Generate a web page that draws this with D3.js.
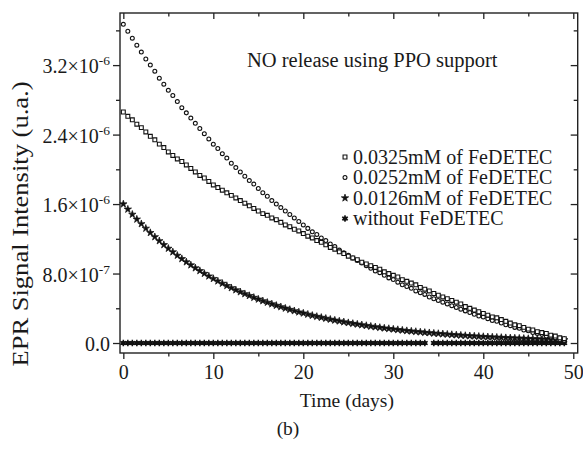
<!DOCTYPE html>
<html>
<head>
<meta charset="utf-8">
<script src="https://cdnjs.cloudflare.com/ajax/libs/d3/7.8.5/d3.min.js"></script>
<style>
  body { margin: 0; background: #fff; }
  svg text { font-family: "Liberation Serif", "Times New Roman", Times, serif; fill: #1a1a1a; }
</style>
</head>
<body>
<svg id="chart" width="583" height="450"></svg>
<script>
// values in units of 1e-6 (EPR signal intensity, u.a.)
var days = d3.range(0, 49.01, 0.5);

var fe0325 = [2.66, 2.61, 2.57, 2.52, 2.48, 2.43, 2.38, 2.34, 2.29, 2.25,
  2.20, 2.16, 2.12, 2.09, 2.05, 2.01, 1.97, 1.93, 1.90, 1.86,
  1.82, 1.79, 1.76, 1.73, 1.70, 1.67, 1.64, 1.61, 1.58, 1.55,
  1.52, 1.49, 1.47, 1.44, 1.42, 1.39, 1.36, 1.34, 1.31, 1.29,
  1.26, 1.23, 1.21, 1.18, 1.16, 1.13, 1.10, 1.08, 1.05, 1.03,
  1.00, 0.98, 0.96, 0.93, 0.91, 0.89, 0.87, 0.85, 0.82, 0.80,
  0.78, 0.76, 0.73, 0.71, 0.69, 0.67, 0.64, 0.62, 0.60, 0.57,
  0.55, 0.53, 0.51, 0.49, 0.47, 0.45, 0.42, 0.40, 0.38, 0.36,
  0.34, 0.32, 0.30, 0.29, 0.27, 0.25, 0.23, 0.21, 0.20, 0.18,
  0.16, 0.15, 0.13, 0.12, 0.11, 0.09, 0.08, 0.06, 0.05];

var fe0252 = [3.67, 3.59, 3.51, 3.43, 3.35, 3.27, 3.20, 3.13, 3.05, 2.98,
  2.91, 2.85, 2.78, 2.71, 2.65, 2.59, 2.53, 2.47, 2.41, 2.35,
  2.29, 2.24, 2.18, 2.13, 2.07, 2.02, 1.97, 1.92, 1.87, 1.83,
  1.78, 1.73, 1.69, 1.64, 1.60, 1.56, 1.52, 1.48, 1.44, 1.40,
  1.36, 1.32, 1.28, 1.25, 1.21, 1.18, 1.14, 1.11, 1.07, 1.04,
  1.01, 0.98, 0.95, 0.92, 0.89, 0.86, 0.83, 0.81, 0.78, 0.75,
  0.73, 0.70, 0.67, 0.65, 0.63, 0.60, 0.58, 0.56, 0.53, 0.51,
  0.49, 0.47, 0.45, 0.43, 0.41, 0.39, 0.37, 0.35, 0.33, 0.31,
  0.30, 0.28, 0.26, 0.25, 0.23, 0.21, 0.20, 0.18, 0.17, 0.15,
  0.14, 0.12, 0.11, 0.10, 0.08, 0.07, 0.06, 0.04, 0.03];

var fe0126 = [1.600, 1.540, 1.481, 1.425, 1.372, 1.320, 1.270, 1.222, 1.176, 1.131,
  1.089, 1.048, 1.008, 0.970, 0.933, 0.898, 0.864, 0.832, 0.800, 0.770,
  0.741, 0.713, 0.686, 0.660, 0.635, 0.611, 0.588, 0.566, 0.545, 0.524,
  0.504, 0.485, 0.467, 0.449, 0.432, 0.416, 0.400, 0.385, 0.370, 0.356,
  0.343, 0.330, 0.317, 0.305, 0.294, 0.283, 0.272, 0.262, 0.252, 0.242,
  0.233, 0.224, 0.216, 0.208, 0.200, 0.192, 0.185, 0.178, 0.171, 0.165,
  0.159, 0.153, 0.147, 0.141, 0.136, 0.131, 0.126, 0.121, 0.117, 0.112,
  0.108, 0.104, 0.100, 0.096, 0.092, 0.089, 0.085, 0.082, 0.079, 0.076,
  0.073, 0.070, 0.068, 0.065, 0.063, 0.060, 0.058, 0.056, 0.054, 0.052,
  0.050, 0.048, 0.046, 0.044, 0.043, 0.041, 0.039, 0.038, 0.036];

var withoutFe = [0, 0, 0, 0, 0, 0, 0, 0, 0, 0,
  0, 0, 0, 0, 0, 0, 0, 0, 0, 0,
  0, 0, 0, 0, 0, 0, 0, 0, 0, 0,
  0, 0, 0, 0, 0, 0, 0, 0, 0, 0,
  0, 0, 0, 0, 0, 0, 0, 0, 0, 0,
  0, 0, 0, 0, 0, 0, 0, 0, 0, 0,
  0, 0, 0, 0, 0, 0, 0, 0, null, 0,
  0, 0, 0, 0, 0, 0, 0, 0, 0, 0,
  0, 0, 0, 0, 0, 0, 0, 0, 0, 0,
  0, 0, 0, 0, 0, 0, 0, 0, 0];

var seriesNames = ["0.0325mM of FeDETEC", "0.0252mM of FeDETEC", "0.0126mM of FeDETEC", "without FeDETEC"];

var xTicks = [0, 10, 20, 30, 40, 50],
    xMinor = [5, 15, 25, 35, 45],
    yTicks = [0, 0.8, 1.6, 2.4, 3.2],
    yMinor = [0.4, 1.2, 2.0, 2.8, 3.6],
    yTickMant = ["0.0", "8.0", "1.6", "2.4", "3.2"],
    yTickExp = [null, "-7", "-6", "-6", "-6"];

var FONT = "Liberation Serif, Times New Roman, Times, serif";

var svg = d3.select("#chart").attr("font-family", FONT),
    MARGINS = { top: 13, right: 5.3, bottom: 97, left: 120 },
    WIDTH = 583, HEIGHT = 450,
    x = d3.scaleLinear().domain([-0.37, 50.49]).range([MARGINS.left, WIDTH - MARGINS.right]),
    y = d3.scaleLinear().domain([-0.115, 3.80]).range([HEIGHT - MARGINS.bottom, MARGINS.top]);

var axisColor = "#222";

function styleAxis(g) {
  g.attr("font-family", FONT);
  g.select(".domain").remove();
  g.selectAll(".tick line").attr("stroke", axisColor).attr("stroke-width", 1.3);
}

// bottom axis
svg.append("g")
  .attr("transform", "translate(0," + y.range()[0] + ")")
  .call(d3.axisBottom(x).tickValues(xTicks).tickSize(6).tickFormat(d3.format("d")))
  .call(styleAxis)
  .call(function (g) {
    g.selectAll("text").attr("dy", null).attr("y", 26.3)
      .attr("font-size", 20).attr("fill", "#1a1a1a");
  });
svg.append("g")
  .attr("transform", "translate(0," + y.range()[0] + ")")
  .call(d3.axisBottom(x).tickValues(xMinor).tickSize(3.5).tickFormat(""))
  .call(styleAxis);

// top axis (mirror, inward)
svg.append("g")
  .attr("transform", "translate(0," + y.range()[1] + ")")
  .call(d3.axisTop(x).tickValues(xTicks).tickSize(-6).tickFormat(""))
  .call(styleAxis);
svg.append("g")
  .attr("transform", "translate(0," + y.range()[1] + ")")
  .call(d3.axisTop(x).tickValues(xMinor).tickSize(-3.5).tickFormat(""))
  .call(styleAxis);

// left axis
svg.append("g")
  .attr("transform", "translate(" + x.range()[0] + ",0)")
  .call(d3.axisLeft(y).tickValues(yTicks).tickSize(7).tickPadding(3).tickFormat(""))
  .call(styleAxis)
  .call(function (g) {
    g.selectAll(".tick").each(function (d, i) {
      var t = d3.select(this).select("text")
        .attr("dy", null).attr("y", 7.5).attr("font-size", 20).attr("fill", "#1a1a1a")
        .attr("text-anchor", "end");
      t.append("tspan").text(yTickMant[i] + (yTickExp[i] ? "\u00d710" : ""));
      if (yTickExp[i]) {
        t.append("tspan").attr("font-size", 13.5).attr("dy", -7.7).text(yTickExp[i]);
      }
    });
  });
svg.append("g")
  .attr("transform", "translate(" + x.range()[0] + ",0)")
  .call(d3.axisLeft(y).tickValues(yMinor).tickSize(4).tickFormat(""))
  .call(styleAxis);

// right axis (mirror, inward)
svg.append("g")
  .attr("transform", "translate(" + x.range()[1] + ",0)")
  .call(d3.axisRight(y).tickValues(yTicks).tickSize(-7).tickFormat(""))
  .call(styleAxis);
svg.append("g")
  .attr("transform", "translate(" + x.range()[1] + ",0)")
  .call(d3.axisRight(y).tickValues(yMinor).tickSize(-4).tickFormat(""))
  .call(styleAxis);

// frame
svg.append("rect")
  .attr("x", x.range()[0]).attr("y", y.range()[1])
  .attr("width", x.range()[1] - x.range()[0])
  .attr("height", y.range()[0] - y.range()[1])
  .attr("fill", "none").attr("stroke", axisColor).attr("stroke-width", 1.4);

// markers
var symSquare = d3.symbol().type(d3.symbolSquare).size(15),
    symCircle = d3.symbol().type(d3.symbolCircle).size(12),
    symStar = d3.symbol().type(d3.symbolStar).size(17),
    symAst = d3.symbol().type(d3.symbolAsterisk).size(30),
    symDot = d3.symbol().type(d3.symbolCircle).size(8);

var seriesDefs = [
  { vals: fe0325, path: symSquare(), fill: "#fff", stroke: "#111", sw: 1.1 },
  { vals: fe0252, path: symCircle(), fill: "#fff", stroke: "#111", sw: 1.1 },
  { vals: fe0126, path: symStar(), fill: "#111", stroke: "#111", sw: 0.7 },
  { vals: withoutFe, path: symAst() + symDot(), fill: "#111", stroke: "#111", sw: 1.5 }
];

// draw from the back: without, then stars, circles, squares
[3, 2, 1, 0].forEach(function (k) {
  var s = seriesDefs[k];
  var pts = days.map(function (d, i) { return { x: d, y: s.vals[i] }; })
    .filter(function (p) { return p.y !== null; });
  svg.append("g").selectAll("path")
    .data(pts)
    .enter().append("path")
    .attr("transform", function (d) { return "translate(" + x(d.x) + "," + y(d.y) + ")"; })
    .attr("d", s.path)
    .attr("fill", s.fill)
    .attr("stroke", s.stroke)
    .attr("stroke-width", s.sw);
});

// legend
var legend = svg.append("g").attr("transform", "translate(345,157)");
seriesNames.forEach(function (name, i) {
  var s = seriesDefs[i];
  var row = legend.append("g").attr("transform", "translate(0," + (i * 20.5) + ")");
  row.append("path").attr("d", s.path).attr("fill", s.fill)
    .attr("stroke", s.stroke).attr("stroke-width", s.sw);
  row.append("text").attr("x", 8).attr("y", 6.7).attr("font-size", 20)
    .attr("font-family", FONT).text(name);
});

// annotation
svg.append("text")
  .attr("x", 247).attr("y", 66.7).attr("font-size", 20.5).attr("font-family", FONT)
  .text("NO release using PPO support");

// axis titles
svg.append("text")
  .attr("x", (x.range()[0] + x.range()[1]) / 2 - 2).attr("y", 406.5)
  .attr("text-anchor", "middle").attr("font-size", 19.5).attr("font-family", FONT)
  .text("Time (days)");

svg.append("text")
  .attr("transform", "translate(27.5,224) rotate(-90)")
  .attr("text-anchor", "middle").attr("font-size", 23).attr("font-family", FONT)
  .attr("textLength", 285).attr("lengthAdjust", "spacingAndGlyphs")
  .text("EPR Signal Intensity (u.a.)");

svg.append("text")
  .attr("x", 288).attr("y", 435)
  .attr("text-anchor", "middle").attr("font-size", 19.5).attr("font-family", FONT)
  .text("(b)");
</script>
</body>
</html>
